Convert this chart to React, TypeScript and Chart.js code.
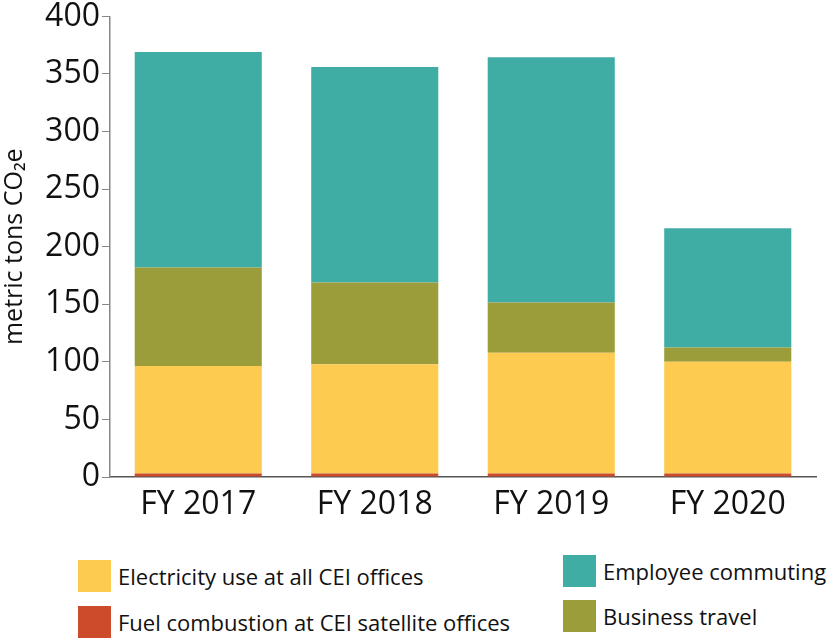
import React, { useEffect, useRef } from "react";
import { Chart, registerables } from "chart.js";

Chart.register(...registerables);

const categories = ["FY 2017", "FY 2018", "FY 2019", "FY 2020"];
const fuelCombustion = [3, 3, 3, 3];
const electricity = [93.5, 95, 105, 97];
const businessTravel = [85.5, 71, 43.5, 12.5];
const employeeCommuting = [187, 187, 213, 103.5];
const yTicks = [0, 50, 100, 150, 200, 250, 300, 350, 400];

const COLORS = {
  fuel: "#CC4B2A",
  electricity: "#FDCB4F",
  business: "#9B9C3A",
  commuting: "#40ADA5",
};

const FONT = "'Open Sans', sans-serif";
const TEXT = "#111";

export default function App() {
  const ref = useRef<HTMLCanvasElement | null>(null);

  useEffect(() => {
    if (!ref.current) return;
    const chart = new Chart(ref.current, {
      type: "bar",
      data: {
        labels: categories,
        datasets: [
          { label: "Fuel combustion at CEI satellite offices", data: fuelCombustion, backgroundColor: COLORS.fuel },
          { label: "Electricity use at all CEI offices", data: electricity, backgroundColor: COLORS.electricity },
          { label: "Business travel", data: businessTravel, backgroundColor: COLORS.business },
          { label: "Employee commuting", data: employeeCommuting, backgroundColor: COLORS.commuting },
        ],
      },
      options: {
        responsive: false,
        animation: false,
        layout: { padding: { top: 16, right: 11, left: 0, bottom: 0 } },
        plugins: { legend: { display: false }, tooltip: { enabled: false } },
        datasets: { bar: { barPercentage: 0.72, categoryPercentage: 1 } },
        scales: {
          x: {
            stacked: true,
            grid: { display: false },
            border: { display: true, color: "#555", width: 1.5 },
            ticks: { color: TEXT, font: { family: FONT, size: 32 }, padding: 1 },
            afterFit: (s: any) => { s.height = 53; },
          },
          y: {
            stacked: true,
            min: 0,
            max: 400,
            afterBuildTicks: (s: any) => { s.ticks = yTicks.map((v) => ({ value: v })); },
            grid: { display: true, drawOnChartArea: false, drawTicks: true, tickLength: 8, color: "#888" },
            border: { display: true, color: "#888", width: 1.5 },
            ticks: { color: TEXT, font: { family: FONT, size: 32, lineHeight: 0.9 }, padding: 2 },
            title: { display: true, text: "metric tons CO₂e", color: TEXT, font: { family: FONT, size: 25 }, padding: 0 },
            afterFit: (s: any) => { s.width = 110; },
          },
        },
      },
    });
    return () => chart.destroy();
  }, []);

  const legendItem = (color: string, text: string, left: number, top: number) => (
    <div style={{ position: "absolute", left, top, display: "flex", alignItems: "center" }}>
      <div style={{ width: 33, height: 32, background: color, marginRight: 7 }} />
      <span style={{ fontFamily: FONT, fontSize: 22, color: TEXT, whiteSpace: "nowrap" }}>{text}</span>
    </div>
  );

  return (
    <div style={{ position: "fixed", left: 0, top: 0, width: 827, height: 638, background: "#fff" }}>
      <canvas ref={ref} width={827} height={530} style={{ position: "absolute", left: 0, top: 0 }} />
      {legendItem(COLORS.electricity, "Electricity use at all CEI offices", 78, 560)}
      {legendItem(COLORS.fuel, "Fuel combustion at CEI satellite offices", 78, 606)}
      {legendItem(COLORS.commuting, "Employee commuting", 563, 555)}
      {legendItem(COLORS.business, "Business travel", 563, 600)}
    </div>
  );
}
